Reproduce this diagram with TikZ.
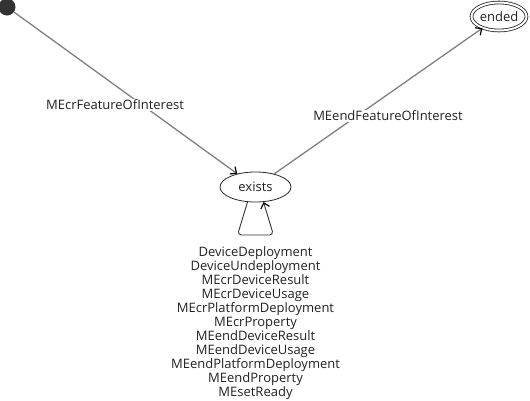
\documentclass[tikz,border=0pt]{standalone}
\usepackage{fontspec}
\setmainfont{Open Sans}
\usetikzlibrary{arrows.meta,shapes.geometric,calc}
\definecolor{startfill}{HTML}{333333}
\definecolor{edgegray}{HTML}{808080}
\definecolor{txt}{HTML}{222222}
\begin{document}
\begin{tikzpicture}[x=1pt,y=-1pt,
  font=\fontsize{13}{14}\selectfont,
  every node/.style={text=txt},
  tip/.style={-{Straight Barb[length=5pt,width=9pt,line width=1.2pt,color=black]}},
  edge/.style={draw=edgegray,line width=1.3pt,tip},
  loopedge/.style={draw=black!80,line width=0.9pt,rounded corners=4pt,tip},
  state/.style={ellipse,draw=black!85,line width=0.8pt,fill=white,inner sep=0pt},
  elabel/.style={fill=white,inner sep=1pt}
]
\useasboundingbox[fill=white] (0,0) rectangle (530,400);
\node[circle,fill=startfill,minimum size=17pt,inner sep=0pt] (start) at (7,7) {};
\node[state,minimum width=71pt,minimum height=30pt] (exists) at (255.5,187) {exists};
\node[state,minimum width=55pt,minimum height=28pt,double=white,double distance=2pt] (ended) at (499,16.5) {ended};
\coordinate (l1) at (237.5,235);
\coordinate (l2) at (273.5,235);
\draw[edge] (start) -- (exists);
\draw[edge] (exists) -- (ended);
\draw[loopedge] (exists.242) -- (l1) -- (l2) -- (exists.298);
\node[elabel] (lcr) at (115,105) {MEcrFeatureOfInterest};
\node[elabel] (lend) at (388,116) {MEendFeatureOfInterest};
\node[align=center,inner sep=0pt] (lloop) at (255.5,323) {DeviceDeployment\\DeviceUndeployment\\MEcrDeviceResult\\MEcrDeviceUsage\\MEcrPlatformDeployment\\MEcrProperty\\MEendDeviceResult\\MEendDeviceUsage\\MEendPlatformDeployment\\MEendProperty\\MEsetReady};
\end{tikzpicture}
\end{document}
